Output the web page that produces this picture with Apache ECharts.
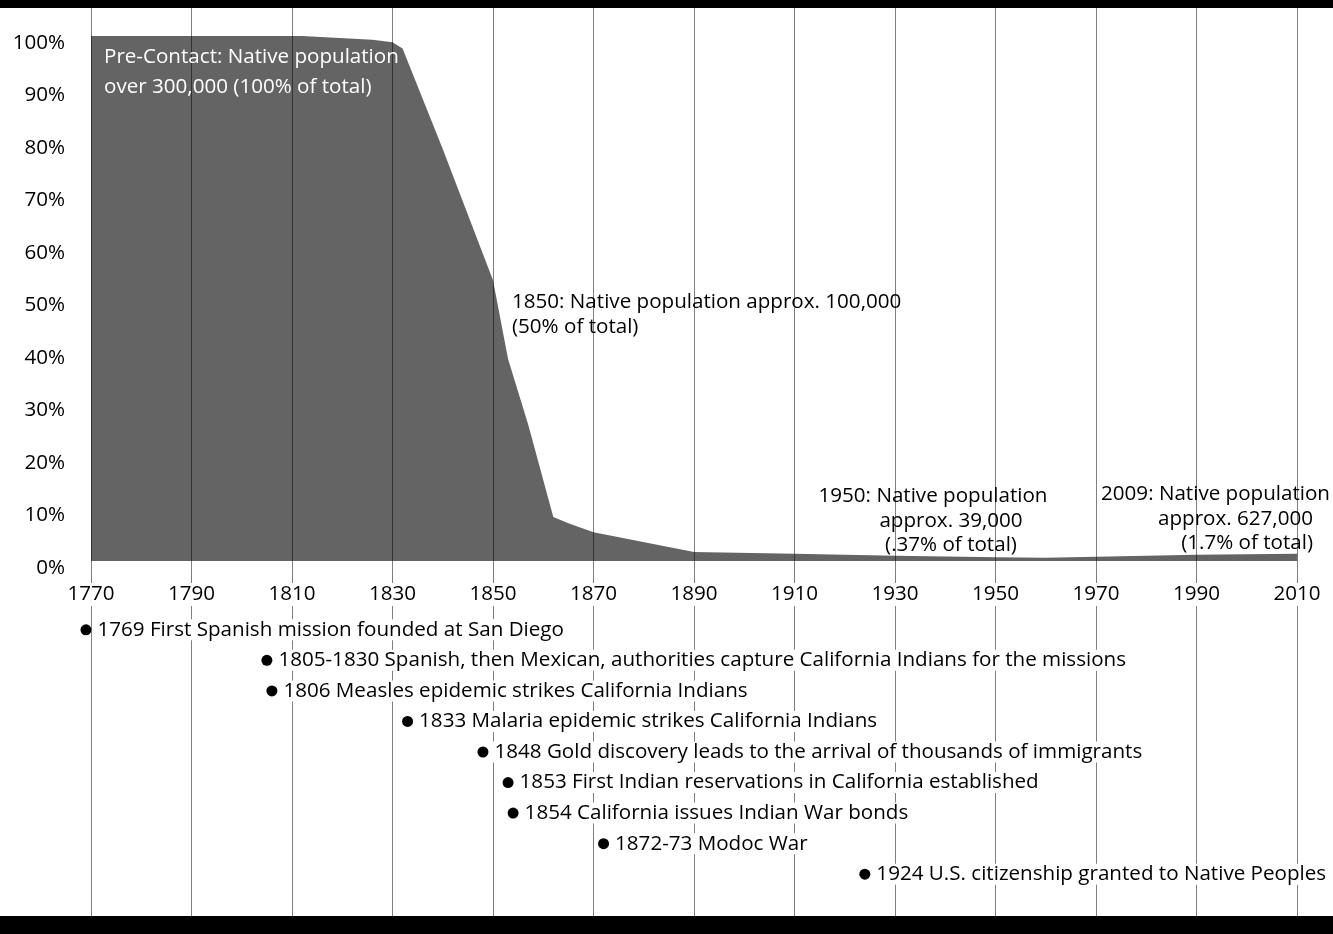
<!DOCTYPE html>
<html>
<head>
<meta charset="UTF-8">
<title>California Native population</title>
<script src="https://cdn.jsdelivr.net/npm/echarts@6/dist/echarts.min.js"></script>
<style>
  html, body { margin: 0; padding: 0; background: #fff; }
  #main { width: 1333px; height: 934px; }
</style>
</head>
<body>
<div id="main"></div>
<script>
// share of pre-contact population
var years  = [1770, 1812, 1826, 1830, 1832, 1840, 1850, 1853, 1857, 1862, 1865, 1870, 1890, 1910, 1930, 1950, 1960, 1970, 1990, 2010];
var shares = [100, 100, 99.3, 98.8, 97.6, 78.5, 53.5, 38.5, 26, 8.4, 7.2, 5.5, 1.7, 1.4, 1.0, 0.7, 0.6, 0.8, 1.2, 1.4];

// timeline events
var eventYears = [1769, 1805, 1806, 1833, 1848, 1853, 1854, 1872, 1924];
var eventTexts = [
  '1769 First Spanish mission founded at San Diego',
  '1805-1830 Spanish, then Mexican, authorities capture California Indians for the missions',
  '1806 Measles epidemic strikes California Indians',
  '1833 Malaria epidemic strikes California Indians',
  '1848 Gold discovery leads to the arrival of thousands of immigrants',
  '1853 First Indian reservations in California established',
  '1854 California issues Indian War bonds',
  '1872-73 Modoc War',
  '1924 U.S. citizenship granted to Native Peoples'
];

var FONT = 'Open Sans';
var FS = 20.6;

var chart = echarts.init(document.getElementById('main'));

var areaData = years.map(function (y, i) { return [y, shares[i]]; });
var eventData = eventYears.map(function (y, i) { return { name: eventTexts[i], value: [y, i] }; });

function note(x, y, text, color, align) {
  return {
    type: 'text', z: 50,
    x: x, y: y,
    style: { text: text, fill: color, font: FS + 'px "' + FONT + '"', align: align || 'left', verticalAlign: 'middle' }
  };
}

var option = {
  animation: false,
  textStyle: { fontFamily: FONT },
  grid: [
    // area chart
    { left: 91, right: 36, top: 36, bottom: 373, outerBoundsMode: 'none', containLabel: false },
    // full-height vertical lines
    { left: 91, right: 36, top: 8, bottom: 18, outerBoundsMode: 'none', containLabel: false },
    // event timeline
    { left: 91, right: 36, top: 614.5, height: 275, outerBoundsMode: 'none', containLabel: false }
  ],
  xAxis: [
    {
      gridIndex: 0, type: 'value', min: 1770, max: 2010, interval: 20, z: 5, position: 'bottom',
      axisLine: { show: false }, axisTick: { show: false }, splitLine: { show: false },
      axisLabel: {
        color: '#000', fontSize: FS, margin: 22, backgroundColor: '#fff', padding: [1, 4],
        formatter: function (v) { return String(v); }
      }
    },
    {
      gridIndex: 1, type: 'value', min: 1770, max: 2010, interval: 20, z: 3,
      axisLine: { show: false }, axisTick: { show: false }, axisLabel: { show: false },
      splitLine: { show: true, lineStyle: { color: 'rgba(0,0,0,0.5)', width: 1 } }
    },
    { gridIndex: 2, type: 'value', min: 1770, max: 2010, show: false }
  ],
  yAxis: [
    {
      gridIndex: 0, type: 'value', min: 0, max: 100, interval: 10,
      axisLine: { show: false }, axisTick: { show: false }, splitLine: { show: false },
      axisLabel: {
        color: '#000', fontSize: FS, margin: 26, verticalAlign: 'top', lineHeight: 14,
        formatter: function (v) { return v + '%'; }
      }
    },
    { gridIndex: 1, type: 'value', min: 0, max: 1, show: false },
    { gridIndex: 2, type: 'category', inverse: true, data: eventTexts, show: false }
  ],
  series: [
    {
      type: 'line', xAxisIndex: 0, yAxisIndex: 0, z: 2,
      data: areaData, symbol: 'none', silent: true,
      lineStyle: { width: 0 },
      areaStyle: { color: '#646464', opacity: 1 }
    },
    {
      type: 'scatter', xAxisIndex: 2, yAxisIndex: 2, z: 4, clip: false, silent: true,
      data: eventData, symbol: 'circle', symbolSize: 11,
      itemStyle: { color: '#000', opacity: 1 },
      label: {
        show: true, position: 'right', distance: 4, color: '#000', fontSize: FS, opacity: 1,
        backgroundColor: '#fff', padding: [0, 2],
        formatter: function (p) { return p.name; }
      }
    }
  ],
  graphic: [
    note(104, 57, 'Pre-Contact: Native population', '#fff'),
    note(104, 87, 'over 300,000 (100% of total)', '#fff'),
    note(512, 302, '1850: Native population approx. 100,000', '#000'),
    note(512, 327, '(50% of total)', '#000'),
    note(933, 496, '1950: Native population', '#000', 'center'),
    note(951, 521, 'approx. 39,000', '#000', 'center'),
    note(951, 545, '(.37% of total)', '#000', 'center'),
    note(1330, 494, '2009: Native population', '#000', 'right'),
    note(1313, 519, 'approx. 627,000', '#000', 'right'),
    note(1313, 543, '(1.7% of total)', '#000', 'right'),
    { type: 'rect', z: 100, shape: { x: 0, y: 0, width: 1333, height: 8 }, style: { fill: '#000' } },
    { type: 'rect', z: 100, shape: { x: 0, y: 916, width: 1333, height: 18 }, style: { fill: '#000' } }
  ]
};

chart.setOption(option);
</script>
</body>
</html>
